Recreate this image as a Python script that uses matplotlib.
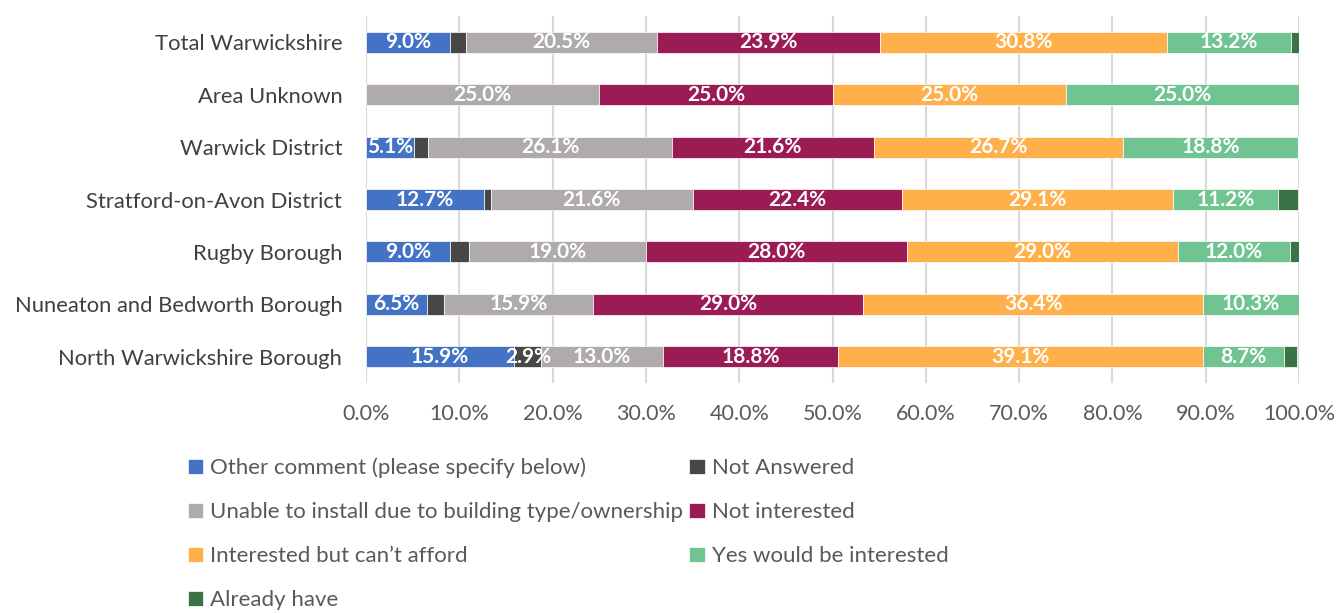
import matplotlib.pyplot as plt
import numpy as np

plt.rcParams['font.family'] = ['Lato', 'DejaVu Sans']

areas = ["Total Warwickshire", "Area Unknown", "Warwick District",
         "Stratford-on-Avon District", "Rugby Borough",
         "Nuneaton and Bedworth Borough", "North Warwickshire Borough"]

series = ["Other comment (please specify below)", "Not Answered",
          "Unable to install due to building type/ownership", "Not interested",
          "Interested but can\u2019t afford", "Yes would be interested",
          "Already have"]

other_comment  = [9.0, 0.0, 5.1, 12.7, 9.0, 6.5, 15.9]
not_answered   = [1.7, 0.0, 1.6, 0.7, 2.0, 1.9, 2.9]
unable         = [20.5, 25.0, 26.1, 21.6, 19.0, 15.9, 13.0]
not_interested = [23.9, 25.0, 21.6, 22.4, 28.0, 29.0, 18.8]
cant_afford    = [30.8, 25.0, 26.7, 29.1, 29.0, 36.4, 39.1]
yes_interested = [13.2, 25.0, 18.8, 11.2, 12.0, 10.3, 8.7]
already_have   = [0.9, 0.0, 0.0, 2.2, 1.0, 0.0, 1.4]

values = [other_comment, not_answered, unable, not_interested,
          cant_afford, yes_interested, already_have]
colors = ["#4472C4", "#474747", "#AFABAB", "#9B1B54",
          "#FFB04A", "#70C491", "#3B7346"]

fig = plt.figure(figsize=(13.38, 6.13), dpi=100)
ax = fig.add_axes([0.2735, 0.3752, 0.6974, 0.5987])

y = np.arange(len(areas))
left = np.zeros(len(areas))
handles = []
for name, vals, col in zip(series, values, colors):
    vals = np.array(vals)
    bars = ax.barh(y, vals, left=left, height=0.4, color=col, label=name,
                   edgecolor="white", linewidth=0.5, zorder=3)
    handles.append(bars)
    for yi, (l, v) in enumerate(zip(left, vals)):
        if v >= 2.5:
            ax.text(l + v / 2, yi, f"{v:.1f}%", ha="center", va="center",
                    color="white", fontsize=15, fontweight="bold", zorder=4)
    left += vals

ax.set_xlim(0, 100)
ax.set_ylim(len(areas) - 0.5, -0.5)
ax.set_yticks(y)
ax.set_yticklabels(areas, fontsize=15.8, color="#404040")
ax.set_xticks(np.arange(0, 101, 10))
ax.set_xticklabels([f"{t:.1f}%" for t in np.arange(0, 101, 10)],
                   fontsize=15.5, color="#595959")
ax.tick_params(axis="both", length=0)
ax.tick_params(axis="x", pad=15)
ax.tick_params(axis="y", pad=17)
ax.grid(axis="x", color="#D9D9D9", linewidth=1.5, zorder=0)
for s in ax.spines.values():
    s.set_visible(False)

# legend filled row by row, two columns
order = [0, 2, 4, 6, 1, 3, 5]
fig.legend([handles[i] for i in order], [series[i] for i in order],
           ncol=2, loc="upper left", bbox_to_anchor=(0.1335, 0.268),
           frameon=False, fontsize=16, labelcolor="#595959",
           handlelength=0.7, handleheight=0.7, handletextpad=0.3,
           columnspacing=0.3, labelspacing=1.08, borderaxespad=0)

fig.savefig("out.png", dpi=100)
